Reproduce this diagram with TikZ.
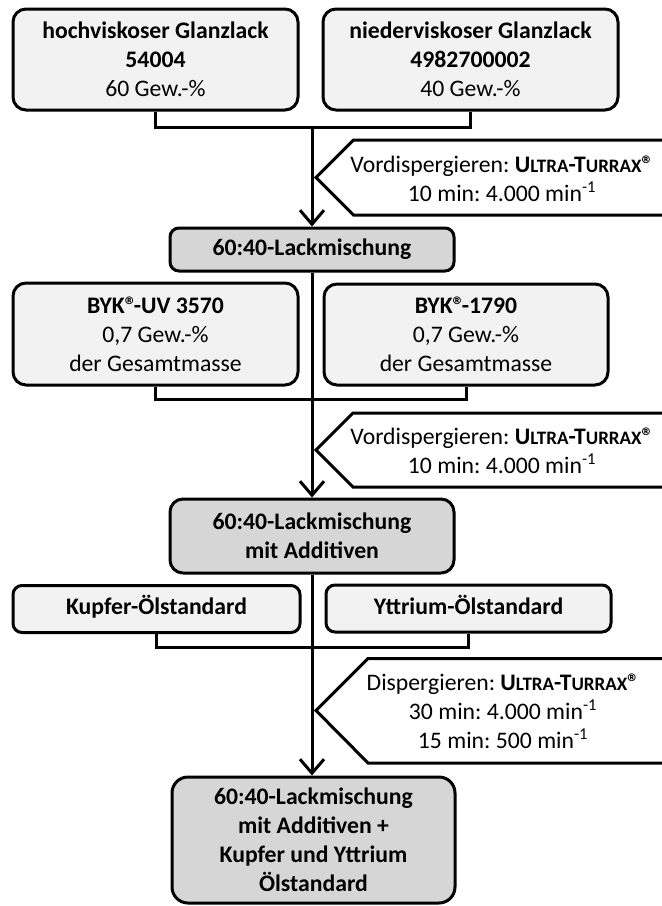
\documentclass[tikz,border=0pt]{standalone}
\usepackage{fontspec}
\setmainfont{Carlito}
\usetikzlibrary{arrows.meta}
\definecolor{boxgray}{HTML}{F2F2F2}
\definecolor{mixgray}{HTML}{D6D6D6}
\newcommand{\smallcap}[1]{{\fontsize{19pt}{19pt}\selectfont #1}}
\newcommand{\turrax}{\textbf{U\smallcap{LTRA}-T\smallcap{URRAX}®}}
\newcommand{\reg}{®\kern-3pt}

\tikzset{
  rawbox/.style={draw, line width=3pt, fill=boxgray, rounded corners=13pt, align=center, inner sep=0pt},
  mixbox/.style={rawbox, fill=mixgray},
  oneline/.style={text height=17pt, text depth=6pt},
  callout/.style={draw, line width=3pt, fill=white},
  flow/.style={line width=3pt},
  flowarrow/.style={flow, -{Straight Barb[length=14pt, width=24pt, line width=3pt]}}
}

\begin{document}
\frenchspacing
\begin{tikzpicture}[x=1pt, y=-1pt, font=\fontsize{23.7pt}{29pt}\selectfont]
  \path[use as bounding box, clip] (0,0) rectangle (662,906);

  \node[rawbox, minimum width=285pt, minimum height=101pt] (hoch) at (155.5,59.5)
    {\textbf{hochviskoser Glanzlack}\\\textbf{54004}\\60 Gew.-\%};
  \node[rawbox, minimum width=295pt, minimum height=101pt] (nieder) at (470.5,59.5)
    {\textbf{niederviskoser Glanzlack}\\\textbf{4982700002}\\40 Gew.-\%};
  \node[mixbox, oneline, rounded corners=9pt, minimum width=284pt, minimum height=43pt] (mix) at (312,249.5)
    {\textbf{60:40-Lackmischung}};

  \node[rawbox, minimum width=285pt, minimum height=102pt] (uv) at (155.5,334)
    {\textbf{BYK\reg-UV 3570}\\0,7 Gew.-\%\\der Gesamtmasse};
  \node[rawbox, minimum width=284pt, minimum height=101pt] (byk) at (466,334.5)
    {\textbf{BYK\reg-1790}\\0,7 Gew.-\%\\der Gesamtmasse};
  \node[mixbox, minimum width=284pt, minimum height=74pt] (mixadd) at (312,536)
    {\textbf{60:40-Lackmischung}\\\textbf{mit Additiven}};

  \node[rawbox, oneline, rounded corners=9pt, minimum width=287pt, minimum height=47pt] (kupfer) at (156.5,609)
    {\textbf{Kupfer-Ölstandard}};
  \node[rawbox, oneline, rounded corners=9pt, minimum width=285pt, minimum height=47pt] (yttrium) at (468.5,608.5)
    {\textbf{Yttrium-Ölstandard}};
  \node[mixbox, rounded corners=16pt, minimum width=283pt, minimum height=126pt] (final) at (313.5,840)
    {\textbf{60:40-Lackmischung}\\\textbf{mit Additiven +}\\\textbf{Kupfer und Yttrium}\\\textbf{Ölstandard}};

  \draw[callout] (316,177.5) -- (353.5,140) -- (680,140) -- (680,215) -- (353.5,215) -- cycle;
  \draw[callout] (316,450) -- (353,413) -- (680,413) -- (680,487) -- (353,487) -- cycle;
  \draw[callout] (316,710.5) -- (368,658.5) -- (680,658.5) -- (680,763) -- (368,763) -- cycle;
  \node[align=center] (vor1) at (502,179) {Vordispergieren: \turrax\\10 min: 4.000 min\textsuperscript{-1}};
  \node[align=center] (vor2) at (502,451) {Vordispergieren: \turrax\\10 min: 4.000 min\textsuperscript{-1}};
  \node[align=center] (disp) at (503,711) {Dispergieren: \turrax\\30 min: 4.000 min\textsuperscript{-1}\\15 min: 500 min\textsuperscript{-1}};

  \coordinate (j1) at (312,127);
  \coordinate (j2) at (312,399);
  \coordinate (j3) at (312,647);
  \draw[flow] (hoch.south) |- (j1) -| (nieder.south);
  \draw[flow] (uv.south) |- (j2) -| (byk.south);
  \draw[flow] (kupfer.south) |- (j3) -| (yttrium.south);
  \draw[flowarrow] (j1) -- (mix.north);
  \draw[flowarrow] (mix.south) -- (mixadd.north);
  \draw[flowarrow] (mixadd.south) -- (mixadd.south |- final.north);
\end{tikzpicture}
\end{document}
